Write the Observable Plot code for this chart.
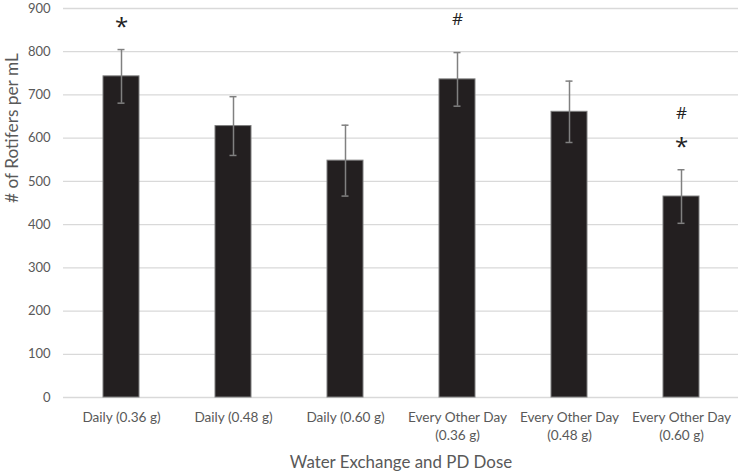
<!DOCTYPE html>
<html>
<head>
<meta charset="utf-8">
<script src="https://cdn.jsdelivr.net/npm/d3@7"></script>
<script src="https://cdn.jsdelivr.net/npm/@observablehq/plot@0.6"></script>
<style>
  html, body { margin: 0; padding: 0; background: #fff; }
  #chart { width: 738px; height: 474px; }
</style>
</head>
<body>
<div id="chart"></div>
<script>
const categories = [
  "Daily (0.36 g)",
  "Daily (0.48 g)",
  "Daily (0.60 g)",
  "Every Other Day (0.36 g)",
  "Every Other Day (0.48 g)",
  "Every Other Day (0.60 g)"
];
const means = [743, 628, 548, 736, 661, 465];
const errors = [62, 68, 82, 62, 71, 62];
const stars = [true, false, false, false, false, true];
const hashes = [false, false, false, true, false, true];
const yTicks = [0, 100, 200, 300, 400, 500, 600, 700, 800, 900];
const xTitle = "Water Exchange and PD Dose";
const yTitle = "# of Rotifers per mL";

const data = categories.map((c, i) => ({
  cat: c, value: means[i], lo: means[i] - errors[i], hi: means[i] + errors[i],
  star: stars[i], hash: hashes[i]
}));

const font = "Lato, 'Open Sans', sans-serif";
const textColor = "#595959";
const errColor = "#808080";
const annColor = "#222";
const annFont = "'Open Sans', sans-serif";

const chart = Plot.plot({
  width: 738,
  height: 474,
  marginLeft: 63,
  marginRight: 0,
  marginTop: 8,
  marginBottom: 77,
  style: { fontFamily: font, color: textColor, background: "#fff", overflow: "visible" },
  x: { domain: categories, paddingInner: 0.68, paddingOuter: 0.34, label: null },
  y: { domain: [0, 900], label: null },
  marks: [
    Plot.gridY(yTicks, { stroke: "#d9d9d9", strokeOpacity: 1, strokeWidth: 1.3 }),
    Plot.axisY(yTicks, { tickSize: 0, tickPadding: 13, fontSize: 13, fill: textColor, label: null }),
    Plot.axisX({
      tickSize: 0, tickPadding: 12, fontSize: 13.6, fill: textColor, lineHeight: 1.3,
      tickFormat: d => d.replace("Day (", "Day\n("), label: null
    }),
    Plot.text([xTitle], { frameAnchor: "bottom", text: d => d, dy: 65, lineAnchor: "middle", fontSize: 16.9, fill: textColor }),
    Plot.text([yTitle], { frameAnchor: "left", text: d => d, dx: -51, rotate: -90, lineAnchor: "middle", fontSize: 17.3, fill: textColor }),
    Plot.barY(data, { x: "cat", y: "value", fill: "#231f20", stroke: "#7f7f7f", strokeWidth: 1 }),
    Plot.ruleX(data, { x: "cat", y1: "lo", y2: "hi", stroke: errColor, strokeWidth: 1.5 }),
    Plot.tickY(data, { x: "cat", y: "hi", stroke: errColor, strokeWidth: 1.5, insetLeft: 14.5, insetRight: 14.5 }),
    Plot.tickY(data, { x: "cat", y: "lo", stroke: errColor, strokeWidth: 1.5, insetLeft: 14.5, insetRight: 14.5 }),
    Plot.text(data.filter(d => d.star), {
      x: "cat", y: "hi", text: () => "*", dy: -22, fontSize: 24, fill: annColor, lineAnchor: "middle", fontFamily: annFont
    }),
    Plot.text(data.filter(d => d.hash && !d.star), {
      x: "cat", y: "hi", text: () => "#", dy: -33, fontSize: 17, fill: annColor, lineAnchor: "middle", fontFamily: annFont
    }),
    Plot.text(data.filter(d => d.hash && d.star), {
      x: "cat", y: "hi", text: () => "#", dy: -56, fontSize: 17, fill: annColor, lineAnchor: "middle", fontFamily: annFont
    })
  ]
});
document.getElementById("chart").appendChild(chart);
</script>
</body>
</html>
